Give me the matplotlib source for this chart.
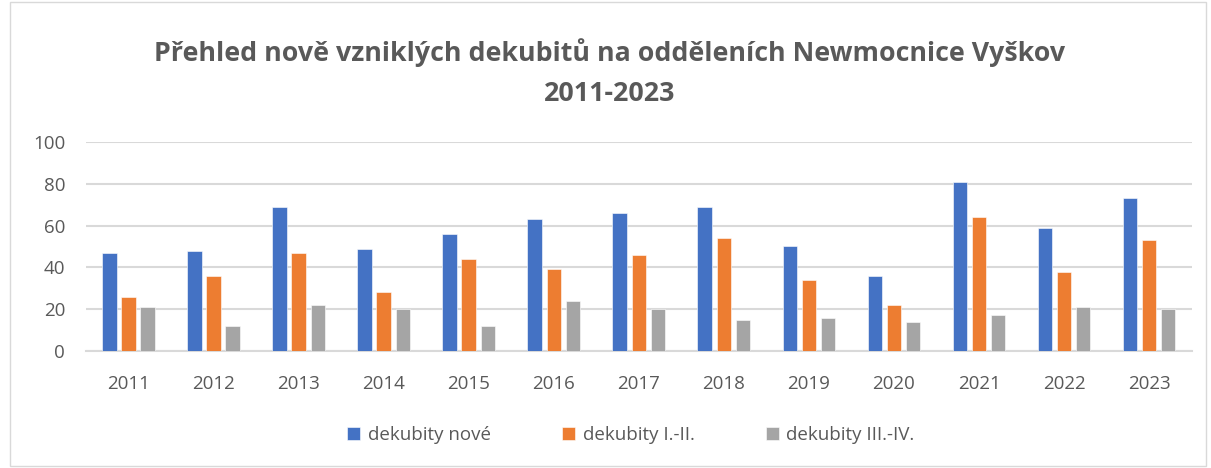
import matplotlib.pyplot as plt
import numpy as np
from matplotlib.patches import Rectangle

years = ['2011', '2012', '2013', '2014', '2015', '2016', '2017', '2018', '2019', '2020', '2021', '2022', '2023']
nove = [47, 48, 69, 49, 56, 63, 66, 69, 50, 36, 81, 59, 73]
st_1_2 = [26, 36, 47, 28, 44, 39, 46, 54, 34, 22, 64, 38, 53]
st_3_4 = [21, 12, 22, 20, 12, 24, 20, 15, 16, 14, 17, 21, 20]

labels = ['dekubity nové', 'dekubity I.-II.', 'dekubity III.-IV.']
colors = ['#4472c4', '#ed7d31', '#a5a5a5']

plt.rcParams['font.family'] = ['Open Sans', 'DejaVu Sans']
txt = '#595959'

fig = plt.figure(figsize=(12.11, 4.68), dpi=100)
fig.patches.append(Rectangle((0.008, 0.004), 0.988, 0.992, transform=fig.transFigure,
                             fill=False, edgecolor='#d9d9d9', linewidth=1))
ax = fig.add_axes([0.071, 0.25, 0.913, 0.4466])

x = np.arange(len(years))
w = 0.17
off = 0.225
for i, (vals, lab, c) in enumerate(zip([nove, st_1_2, st_3_4], labels, colors)):
    ax.bar(x + (i - 1) * off, vals, w, color=c, label=lab, edgecolor='white', linewidth=0.4, zorder=3)

ax.set_xlim(-0.5, len(years) - 0.5)
ax.set_ylim(0, 100)
ax.set_yticks(range(0, 101, 20))
ax.set_xticks(x)
ax.set_xticklabels(years)
ax.grid(axis='y', color='#d9d9d9', linewidth=1.5, zorder=0)
for s in ['top', 'right', 'left']:
    ax.spines[s].set_visible(False)
ax.spines['bottom'].set_color('#d9d9d9')
ax.spines['bottom'].set_linewidth(1.5)
ax.tick_params(length=0, colors=txt, labelsize=13.5)
ax.tick_params(axis='y', pad=15)
ax.tick_params(axis='x', pad=17)

fig.text(0.503, 0.845, 'Přehled nově vzniklých dekubitů na odděleních Newmocnice Vyškov\n2011-2023',
         ha='center', va='center', fontsize=19.3, fontweight='bold', color=txt, linespacing=1.7)

fig.legend(loc='center', bbox_to_anchor=(0.521, 0.07), ncol=3, frameon=False, fontsize=13.5,
           labelcolor=txt, handlelength=0.7, handleheight=0.7, columnspacing=3.8, handletextpad=0.4)

plt.savefig('out.png')
